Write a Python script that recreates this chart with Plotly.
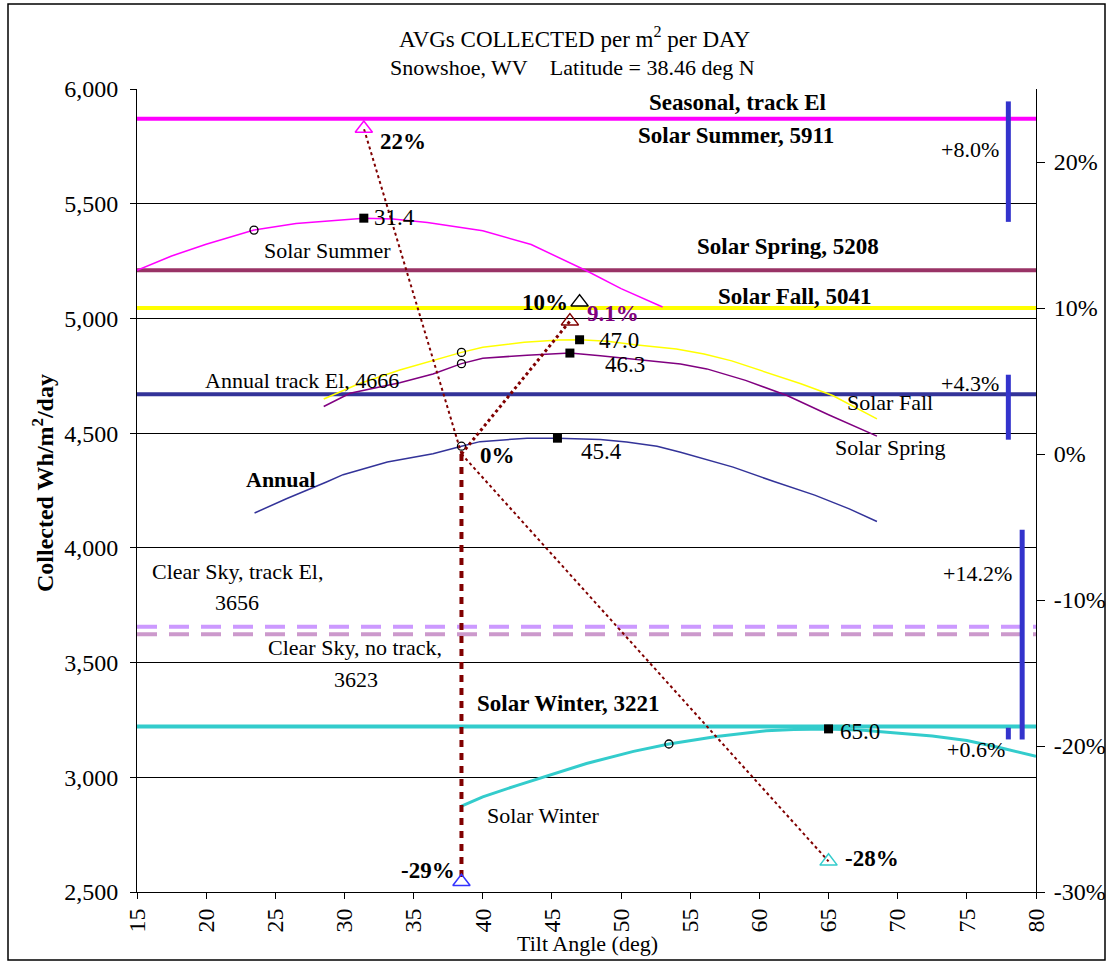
import plotly.graph_objects as go

# ---------------- data ----------------
# horizontal reference levels (Wh/m2/day)
ref_values = [5870, 5210, 5045, 4670, 3656, 3623, 3221]

# seasonal / annual curves vs tilt angle
x_summer = [15, 17.5, 20, 23.46, 26.5, 30, 31.4, 33.5, 36, 40, 43.5, 47.5, 50, 53]
y_summer = [5210, 5272, 5323, 5385, 5414, 5432, 5437, 5433, 5418, 5382, 5322, 5208, 5130, 5050]

x_fall = [28.5, 31, 34, 36.9, 38.46, 40, 43, 45.5, 47, 49, 51, 54, 56, 58, 61, 63, 65.3, 68.5]
y_fall = [4649, 4714, 4775, 4823, 4852, 4874, 4896, 4906, 4907, 4900, 4885, 4867, 4845, 4815, 4757, 4715, 4664, 4562]

x_spring = [28.5, 30.4, 34, 36.4, 38.46, 40, 43.2, 46.3, 48.5, 50.2, 52, 54.3, 56.2, 59, 62, 65, 68.5]
y_spring = [4616, 4674, 4720, 4758, 4803, 4826, 4840, 4849, 4837, 4826, 4815, 4801, 4780, 4730, 4664, 4580, 4487]

x_annual = [23.5, 25.8, 28.7, 29.9, 33.1, 36.4, 38.46, 39.8, 43.2, 45.4, 48.5, 50.4, 52.6, 54.3, 58.1, 61, 64, 66.5, 68.5]
y_annual = [4152, 4214, 4287, 4319, 4374, 4410, 4443, 4463, 4478, 4478, 4472, 4461, 4443, 4417, 4352, 4290, 4230, 4170, 4115]

x_winter = [38.46, 40, 42.5, 44.9, 47.5, 50.9, 53.46, 56.9, 60.5, 62.5, 65, 67.5, 70.2, 72.5, 75, 77.5, 80]
y_winter = [2874, 2915, 2965, 3011, 3060, 3113, 3145, 3178, 3203, 3208, 3211, 3205, 3193, 3180, 3160, 3128, 3091]

# latitude / latitude +- 15 markers
circle_x = [23.46, 38.46, 38.46, 38.46, 53.46]
circle_y = [5385, 4852, 4803, 4443, 3145]

# optimum tilt markers
square_x = [31.4, 47.0, 46.3, 45.4, 65.0]
square_y = [5437, 4907, 4849, 4478, 3211]
square_labels = ["31.4", "47.0", "46.3", "45.4", "65.0"]

# percent change markers (right axis)
tri_x = [31.4, 47.0, 46.3, 38.46, 65.0]
tri_y = [0.223, 0.104, 0.091, -0.293, -0.279]
tri_labels = ["22%", "10%", "9.1%", "-29%", "-28%"]

# gain bars (right axis)
bar_x = [78, 78, 79, 78]
bar_lo = [0.159, 0.0098, -0.1955, -0.1955]
bar_hi = [0.2415, 0.0543, -0.0518, -0.1875]
bar_labels = ["+8.0%", "+4.3%", "+14.2%", "+0.6%"]

# connectors from the latitude point (0%) to the percentage markers
conn_origin_x, conn_origin_y = 38.46, 0.0
conn_to_x = [31.4, 46.3, 38.46, 65.0]
conn_to_y = [0.223, 0.091, -0.293, -0.279]

y_ticks = [2500, 3000, 3500, 4000, 4500, 5000, 5500, 6000]
y2_ticks = [-0.3, -0.2, -0.1, 0.0, 0.1, 0.2]
y2_ticktext = ["-30%", "-20%", "-10%", "0%", "10%", "20%"]

# ---------------- styling ----------------
FONT = "Liberation Serif, Times New Roman, serif"
W, H = 1109, 963
L, R, T, B = 137, 1036, 89, 892


def pxx(p):
    return (p - L) / (R - L)


def pxy(p):
    return (B - p) / (B - T)


fig = go.Figure()

ref_colors = ["#FF00FF", "#993366", "#FFFF00", "#333399", "#CC99FF", "#CC99CC", "#33CCCC"]
ref_dash = ["solid", "solid", "solid", "solid", "20px,12px", "20px,12px", "solid"]
for v, c, d in zip(ref_values, ref_colors, ref_dash):
    fig.add_trace(go.Scatter(x=[15, 80], y=[v, v], mode="lines",
                             line=dict(color=c, width=4, dash=d), hoverinfo="skip"))

curves = [
    (x_summer, y_summer, "#FF00FF", 1.5),
    (x_fall, y_fall, "#FFFF00", 1.5),
    (x_spring, y_spring, "#800080", 1.5),
    (x_annual, y_annual, "#333399", 1.5),
    (x_winter, y_winter, "#33CCCC", 3),
]
for xs, ys, c, w in curves:
    fig.add_trace(go.Scatter(x=xs, y=ys, mode="lines", line=dict(color=c, width=w)))

# connectors on secondary axis
conn_styles = [("#800000", 2, "dot"), ("#800000", 3, "dot"), ("#800000", 4, "7px,6px"), ("#800000", 2, "dot")]
for tx, ty, (c, w, d) in zip(conn_to_x, conn_to_y, conn_styles):
    fig.add_trace(go.Scatter(x=[conn_origin_x, tx], y=[conn_origin_y, ty], mode="lines",
                             line=dict(color=c, width=w, dash=d), yaxis="y2"))

# gain bars
for bx, lo, hi in zip(bar_x, bar_lo, bar_hi):
    fig.add_trace(go.Scatter(x=[bx, bx], y=[lo, hi], mode="lines",
                             line=dict(color="#3333CC", width=5), yaxis="y2"))

fig.add_trace(go.Scatter(x=circle_x, y=circle_y, mode="markers",
                         marker=dict(symbol="circle-open", size=8, color="black", line=dict(width=1.3))))
fig.add_trace(go.Scatter(x=square_x, y=square_y, mode="markers",
                         marker=dict(symbol="square", size=9, color="black")))
tri_colors = ["#FF00FF", "#000000", "#800000", "#3333FF", "#33CCCC"]
fig.add_trace(go.Scatter(x=tri_x, y=tri_y, mode="markers", yaxis="y2",
                         marker=dict(symbol="triangle-up-open", size=15, color=tri_colors,
                                     line=dict(width=1.5, color=tri_colors))))

ann = []


def txt(s, x, y, size=21, bold=False, color="black", xanchor="center", angle=0):
    if bold:
        s = "<b>" + s + "</b>"
    ann.append(dict(text=s, x=pxx(x), y=pxy(y), xref="paper", yref="paper",
                    xanchor=xanchor, yanchor="middle", showarrow=False, textangle=angle,
                    font=dict(family=FONT, size=size, color=color)))


# titles
txt("AVGs COLLECTED per m<sup>2</sup> per DAY", 575, 38, size=23)
txt("Snowshoe, WV\u00a0\u00a0\u00a0\u00a0Latitude = 38.46 deg N", 572, 68, size=22)
txt("Tilt Angle (deg)", 587, 943, size=22)
txt("Collected Wh/m<sup>2</sup>/day", 43, 483, size=24, bold=True, angle=-90)

# line labels
txt("Seasonal, track El", 737, 103, bold=True, size=23)
txt("Solar Summer, 5911", 736, 135, bold=True, size=23)
txt("Solar Spring, 5208", 788, 246, bold=True, size=23)
txt("Solar Fall, 5041", 795, 296, bold=True, size=23)
txt("Annual track El, 4666", 302, 380, size=22)
txt("Annual", 281, 480, bold=True, size=22)
txt("Solar Summer", 327, 250, size=22)
txt("Solar Fall", 890, 402, size=22)
txt("Solar Spring", 890, 447, size=22)
txt("Clear Sky, track El,", 237, 571, size=22)
txt("3656", 237, 602, size=22)
txt("Clear Sky, no track,", 355, 647, size=22)
txt("3623", 356, 679, size=22)
txt("Solar Winter, 3221", 568, 703, bold=True, size=23)
txt("Solar Winter", 543, 815, size=22)

# gain bar labels
for s, (x, y) in zip(bar_labels, [(1001, 150), (1001, 383), (1014, 573), (1007, 749)]):
    txt(s, x, y, xanchor="right", size=22)

# percent labels
txt("0%", 497, 455, bold=True, size=23)
tri_pos = [(403, 141), (545, 302), (613, 313), (428, 870), (872, 858)]
tri_txtcol = ["black", "black", "#800080", "black", "black"]
for s, (x, y), c in zip(tri_labels, tri_pos, tri_txtcol):
    txt(s, x, y, bold=True, size=23, color=c)

# optimum tilt labels
sq_pos = [(394, 218), (619, 340), (625, 364), (601, 451), (860, 731)]
for s, (x, y) in zip(square_labels, sq_pos):
    txt(s, x, y, size=23)

fig.update_layout(
    width=W, height=H, autosize=False,
    margin=dict(l=L, r=W - R, t=T, b=H - B, pad=0),
    paper_bgcolor="white", plot_bgcolor="white",
    showlegend=False,
    font=dict(family=FONT, size=24, color="black"),
    annotations=ann,
    xaxis=dict(range=[15, 80], tickmode="linear", tick0=15, dtick=5, tickangle=-90,
               ticks="outside", ticklen=6, tickcolor="black", showline=True, linecolor="black",
               linewidth=1, showgrid=False, zeroline=False, automargin=False,
               tickfont=dict(family=FONT, size=24)),
    yaxis=dict(range=[2500, 6000], tickvals=y_ticks, tickformat=",d", ticks="outside", ticklen=6,
               tickcolor="black", showline=True, linecolor="black", linewidth=1,
               showgrid=True, gridcolor="black", gridwidth=1, zeroline=False, automargin=False,
               ticklabelstandoff=7, tickfont=dict(family=FONT, size=24)),
    yaxis2=dict(range=[-0.30, 0.25], overlaying="y", side="right", tickvals=y2_ticks,
                ticktext=y2_ticktext, ticks="outside", ticklen=8, tickcolor="black",
                showline=True, linecolor="black", linewidth=1, showgrid=False, zeroline=False,
                automargin=False, ticklabelstandoff=4, tickfont=dict(family=FONT, size=24)),
    shapes=[dict(type="rect", xref="paper", yref="paper",
                 x0=pxx(8), x1=pxx(1105), y0=pxy(960), y1=pxy(4),
                 line=dict(color="black", width=1.5), fillcolor="rgba(0,0,0,0)", layer="below")],
)

fig.write_html("out.html", config={"displayModeBar": False},
               post_script="document.body.style.margin='0px';document.body.style.overflow='hidden';")
